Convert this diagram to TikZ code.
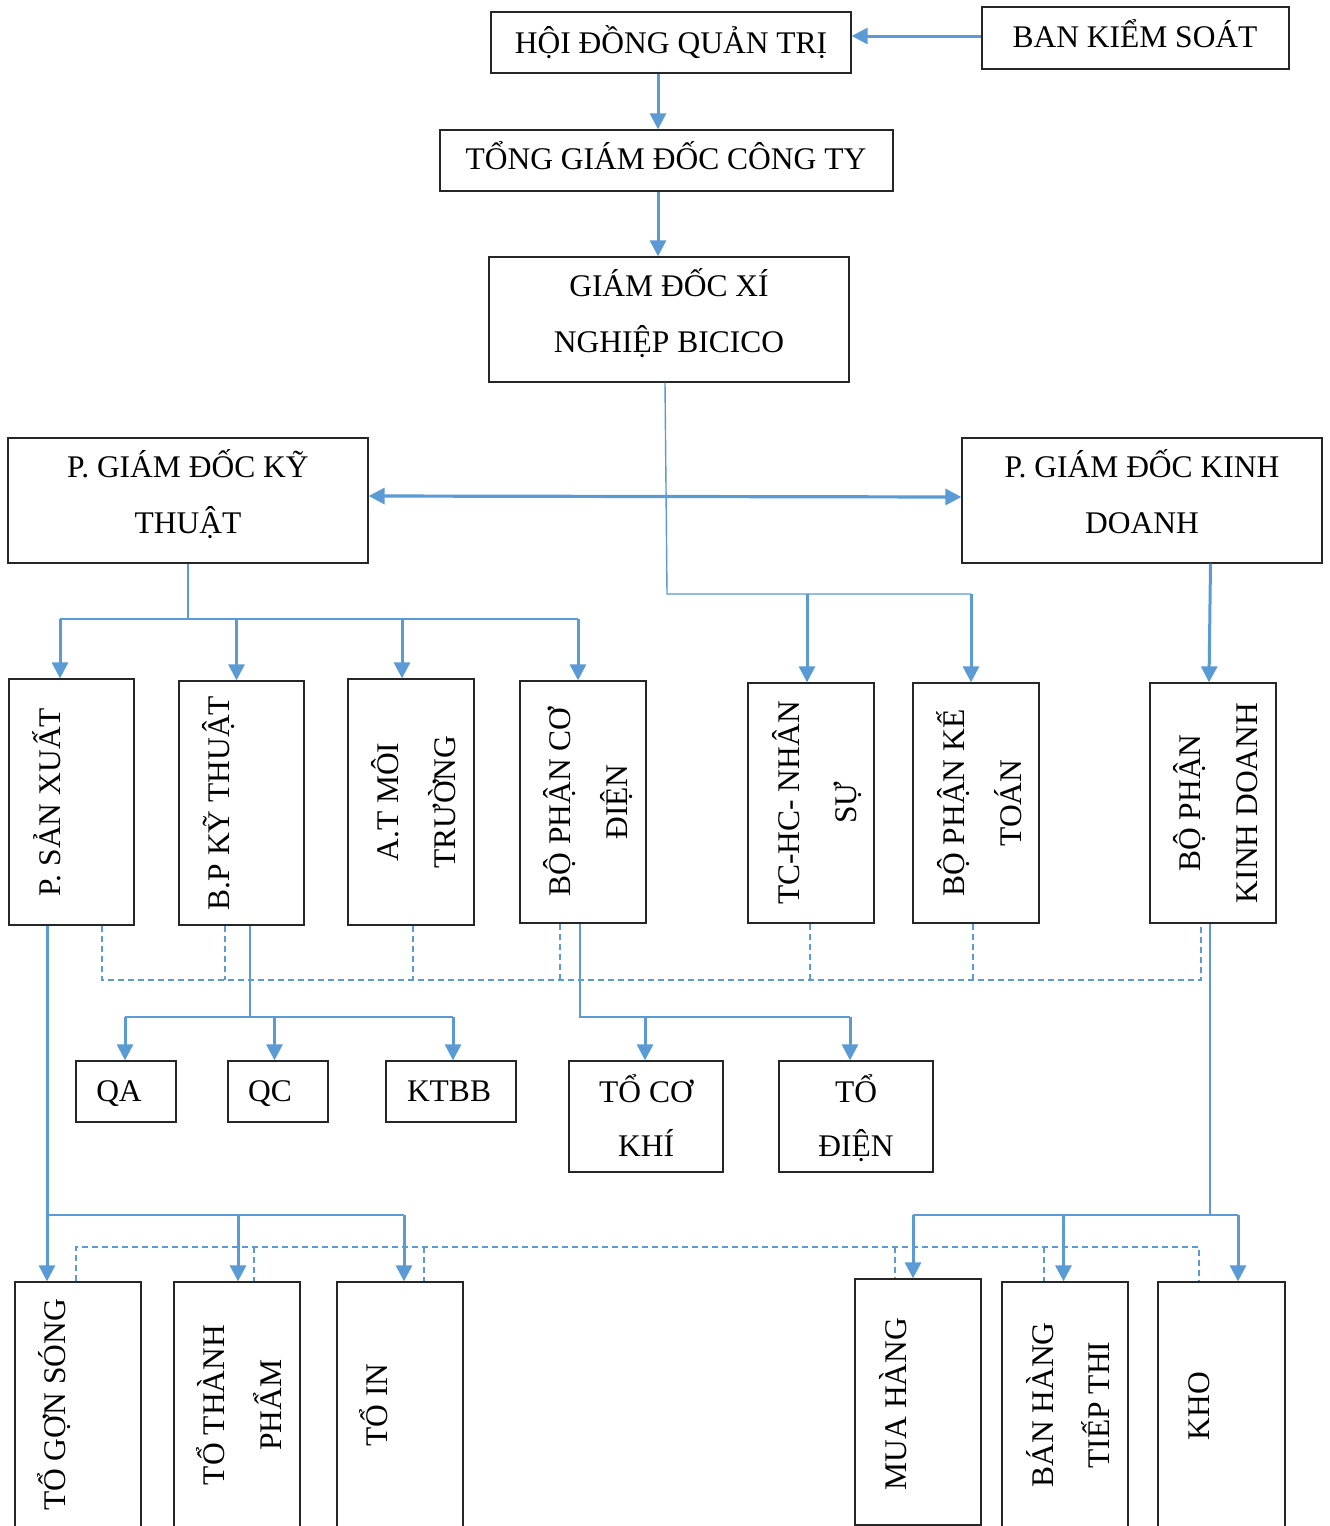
\documentclass[tikz,border=0pt]{standalone}
\usepackage{fontspec}
\setmainfont{Liberation Serif}
\usetikzlibrary{arrows.meta,fit}
\definecolor{lblue}{HTML}{5B9BD5}
\newcommand\txtsize{\fontsize{31.5}{38}\selectfont}
% box from corner (x1,y1) to corner (x2,y2)
\newcommand\bx[5]{\node[box, fit={(#2,#3) (#4,#5)}] (#1) {};}
% horizontal label, baseline centred at (x,y)
\newcommand\htxt[4]{\node[htext] (#1) at (#2,#3) {#4};}
% label turned a quarter, baseline at x, centred at y
\newcommand\vtxt[4]{\node[vtext] (#1) at (#2,#3) {#4};}
\begin{document}
\begin{tikzpicture}[x=1pt,y=-1pt,
  box/.style={draw=black!85, line width=1.3pt, inner sep=0pt},
  htext/.style={font=\txtsize, anchor=base, inner sep=0pt},
  vtext/.style={htext, rotate=90},
  tipshape/.style={},
  arr/.style={draw=lblue, line width=3pt, -{Triangle[length=16pt,width=16pt]}},
  dblarr/.style={draw=lblue, line width=3.2pt, {Triangle[length=16pt,width=16pt]}-{Triangle[length=16pt,width=16pt]}},
  busln/.style={draw=lblue, line width=2pt},
  thinln/.style={draw=lblue, line width=1.4pt},
  dashln/.style={draw=lblue, line width=1.2pt, dash pattern=on 6pt off 4pt}]
\clip (0,0) rectangle (1330,1526);
\fill[white] (0,0) rectangle (1330,1526);

% ---- boxes ----
\bx{hdqt}{491}{12}{851}{73}
\bx{bks}{982}{7}{1289}{69}
\bx{tgd}{440}{130}{893}{191}
\bx{gdxn}{489}{257}{849}{382}
\bx{pkt}{8}{438}{368}{563}
\bx{pkd}{962}{438}{1322}{563}
\bx{psx}{9}{679}{134}{925}
\bx{bpkt}{179}{681}{304}{925}
\bx{atmt}{348}{679}{474}{925}
\bx{bpcd}{520}{681}{646}{923}
\bx{tchc}{748}{683}{874}{923}
\bx{bpkto}{913}{683}{1039}{923}
\bx{bpkd}{1150}{683}{1276}{923}
\bx{qa}{76}{1061}{176}{1122}
\bx{qc}{228}{1061}{328}{1122}
\bx{ktbb}{386}{1061}{516}{1122}
\bx{tck}{569}{1061}{723}{1172}
\bx{tdien}{779}{1061}{933}{1172}
\bx{tgs}{15}{1282}{141}{1530}
\bx{ttp}{174}{1282}{300}{1530}
\bx{tin}{337}{1282}{463}{1530}
\bx{mua}{855}{1279}{981}{1525}
\bx{ban}{1002}{1282}{1128}{1530}
\bx{kho}{1158}{1282}{1285}{1530}

% ---- labels ----
\htxt{t1}{671}{53}{HỘI ĐỒNG QUẢN TRỊ}
\htxt{t2}{1135}{47}{BAN KIỂM SOÁT}
\htxt{t3}{666}{169.5}{TỔNG GIÁM ĐỐC CÔNG TY}
\htxt{t4a}{669}{296}{GIÁM ĐỐC XÍ}
\htxt{t4b}{669}{352}{NGHIỆP BICICO}
\htxt{t5a}{188}{477}{P. GIÁM ĐỐC KỸ}
\htxt{t5b}{188}{533}{THUẬT}
\htxt{t6a}{1142}{477}{P. GIÁM ĐỐC KINH}
\htxt{t6b}{1142}{533}{DOANH}
\htxt{t7}{119}{1101.5}{QA}
\htxt{t8}{270}{1101.5}{QC}
\htxt{t9}{449}{1101.5}{KTBB}
\htxt{t10a}{646}{1102}{TỔ CƠ}
\htxt{t10b}{646}{1156}{KHÍ}
\htxt{t11a}{856}{1102}{TỔ}
\htxt{t11b}{856}{1156}{ĐIỆN}

\vtxt{v1}{60}{802}{P. SẢN XUẤT}
\vtxt{v2}{229}{803}{B.P KỸ THUẬT}
\vtxt{v3a}{398}{802}{A.T MÔI}
\vtxt{v3b}{455}{802}{TRƯỜNG}
\vtxt{v4a}{570}{802}{BỘ PHẬN CƠ}
\vtxt{v4b}{627}{802}{ĐIỆN}
\vtxt{v5a}{799}{803}{TC-HC- NHÂN}
\vtxt{v5b}{856}{803}{SỰ}
\vtxt{v6a}{964}{803}{BỘ PHẬN KẾ}
\vtxt{v6b}{1021}{803}{TOÁN}
\vtxt{v7a}{1200}{803}{BỘ PHẬN}
\vtxt{v7b}{1257}{803}{KINH DOANH}
\vtxt{v8}{65}{1405}{TỔ GỢN SÓNG}
\vtxt{v9a}{224}{1405}{TỔ THÀNH}
\vtxt{v9b}{281}{1405}{PHẨM}
\vtxt{v10}{387}{1405}{TỔ IN}
\vtxt{v11}{906}{1404}{MUA HÀNG}
\vtxt{v12a}{1053}{1405}{BÁN HÀNG}
\vtxt{v12b}{1109}{1405}{TIẾP THI}
\vtxt{v13}{1209}{1406}{KHO}

% ---- top of the chain ----
\coordinate (spine) at (658,0);
\draw[arr] ([yshift=2pt]bks.west) -- ([yshift=2pt]bks.west -| hdqt.east);
\draw[arr] (spine |- hdqt.south) -- (spine |- tgd.north);
\draw[arr] (spine |- tgd.south) -- (spine |- gdxn.north);

% ---- deputy directors ----
\draw[dblarr] ([yshift=4.5pt]pkt.east) -- ([yshift=3.5pt]pkd.west);

% ---- director to admin and accounting ----
\coordinate (j1) at (667,594);
\coordinate (j2) at (971,594);
\coordinate (j3) at (807,594);
\draw[thinln] ([xshift=-4pt]gdxn.south) -- (j1) -- (j2);
\draw[arr] (j3) -- (j3 |- tchc.north);
\draw[arr] (j2) -- (j2 |- bpkto.north);

% ---- business deputy to sales department ----
\draw[arr] ([xshift=68.5pt]pkd.south) -- ([xshift=-4pt]bpkd.north);

% ---- technical deputy to its four departments ----
\coordinate (kL) at (60,619);
\coordinate (k2) at (236.5,619);
\coordinate (k3) at (402,619);
\coordinate (kR) at (578,619);
\draw[thinln] (pkt.south) -- (pkt.south |- kL);
\draw[busln] (kL) -- (kR);
\draw[arr] (kL) -- (kL |- psx.north);
\draw[arr] (k2) -- (k2 |- bpkt.north);
\draw[arr] (k3) -- (k3 |- atmt.north);
\draw[arr] (kR) -- (kR |- bpcd.north);

% ---- technical section to QA / QC / KTBB ----
\coordinate (q0) at (250,1017);
\coordinate (q1) at (125,1017);
\coordinate (q2) at (274.5,1017);
\coordinate (q3) at (453,1017);
\draw[thinln] (q0 |- bpkt.south) -- (q0);
\draw[busln] (q1) -- (q3);
\draw[arr] (q1) -- (q1 |- qa.north);
\draw[arr] (q2) -- (q2 |- qc.north);
\draw[arr] (q3) -- (q3 |- ktbb.north);

% ---- electro-mechanical section to its teams ----
\coordinate (c0) at (580,1017);
\coordinate (c1) at (645,1017);
\coordinate (c2) at (850,1017);
\draw[thinln] (c0 |- bpcd.south) -- (c0) -- (c2);
\draw[arr] (c1) -- (c1 |- tck.north);
\draw[arr] (c2) -- (c2 |- tdien.north);

% ---- production to its teams ----
\coordinate (s0) at (47,1215);
\coordinate (s1) at (238,1215);
\coordinate (s2) at (404,1215);
\draw[arr] (s0 |- psx.south) -- (s0 |- tgs.north);
\draw[busln] (s0) -- (s2);
\draw[arr] (s1) -- (s1 |- ttp.north);
\draw[arr] (s2) -- (s2 |- tin.north);

% ---- sales department to its teams ----
\coordinate (b0) at (1210,1215);
\coordinate (b1) at (913,1215);
\coordinate (b2) at (1063.5,1215);
\coordinate (b3) at (1238,1215);
\draw[thinln] (b0 |- bpkd.south) -- (b0);
\draw[busln] (b1) -- (b3);
\draw[arr] (b1) -- (b1 |- mua.north);
\draw[arr] (b2) -- (b2 |- ban.north);
\draw[arr] (b3) -- (b3 |- kho.north);

% ---- dashed coordination line between departments ----
\coordinate (d1) at (102,980);
\coordinate (d2) at (225,980);
\coordinate (d3) at (413,980);
\coordinate (d4) at (560,980);
\coordinate (d5) at (810,980);
\coordinate (d6) at (973,980);
\coordinate (d7) at (1201,980);
\draw[dashln] (d1 |- psx.south) -- (d1) -- (d7) -- (d7 |- bpkd.south);
\draw[dashln] (d2 |- bpkt.south) -- (d2);
\draw[dashln] (d3 |- atmt.south) -- (d3);
\draw[dashln] (d4 |- bpcd.south) -- (d4);
\draw[dashln] (d5 |- tchc.south) -- (d5);
\draw[dashln] (d6 |- bpkto.south) -- (d6);

% ---- dashed coordination line between teams ----
\coordinate (e1) at (76,1247);
\coordinate (e2) at (254,1247);
\coordinate (e3) at (424,1247);
\coordinate (e4) at (895,1247);
\coordinate (e5) at (1044,1247);
\coordinate (e6) at (1199,1247);
\draw[dashln] (e1 |- tgs.north) -- (e1) -- (e6) -- (e6 |- kho.north);
\draw[dashln] (e2) -- (e2 |- ttp.north);
\draw[dashln] (e3) -- (e3 |- tin.north);
\draw[dashln] (e4) -- (e4 |- mua.north);
\draw[dashln] (e5) -- (e5 |- ban.north);
\end{tikzpicture}
\end{document}
